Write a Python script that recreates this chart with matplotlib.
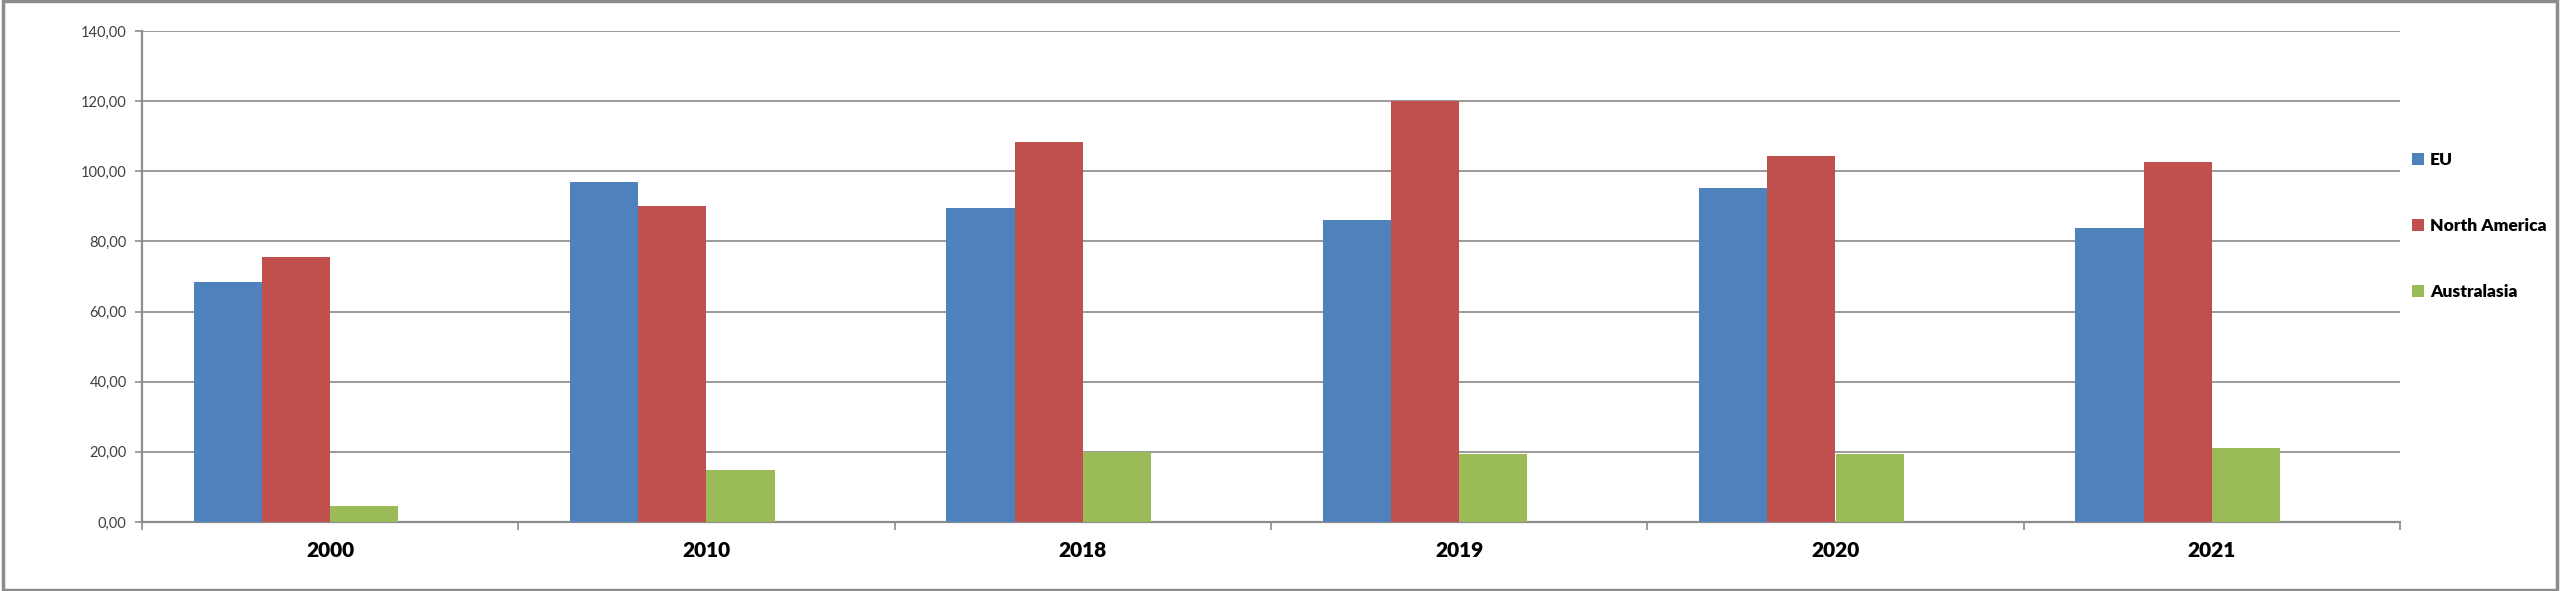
import numpy as np
import matplotlib
matplotlib.use("Agg")
import matplotlib.pyplot as plt
from matplotlib.patches import Rectangle
from matplotlib.ticker import FuncFormatter, FixedLocator

plt.rcParams['font.family'] = ['Lato', 'DejaVu Sans']

years = ["2000", "2010", "2018", "2019", "2020", "2021"]
eu = [68.5, 97.0, 89.4, 86.1, 95.2, 83.7]
north_america = [75.5, 90.0, 108.4, 119.9, 104.5, 102.6]
australasia = [4.5, 14.9, 20.0, 19.3, 19.3, 21.2]

series_names = ["EU", "North America", "Australasia"]
colors = ["#4F81BD", "#C0504D", "#9BBB59"]

fig = plt.figure(figsize=(25.6, 5.91), dpi=100)
ax = fig.add_axes([142 / 2560, 1 - 522 / 591, (2400 - 142) / 2560, (522 - 31) / 591])

x = np.arange(len(years))
w = 0.1815
# Excel leaves room for a 4th (empty) series, so bars sit left of centre
offsets = [-1.5 * w, -0.5 * w, 0.5 * w]
for vals, name, col, off in zip([eu, north_america, australasia], series_names, colors, offsets):
    ax.bar(x + off, vals, width=w, color=col, label=name, zorder=3, linewidth=0)

ax.set_xlim(-0.5, len(years) - 0.5)
ax.set_ylim(0, 140)
ax.set_yticks(np.arange(0, 141, 20))
ax.yaxis.set_major_formatter(FuncFormatter(lambda v, p: f"{v:.2f}".replace(".", ",")))
ax.grid(axis="y", color="#9a9a9a", linewidth=1.4, zorder=0)

ax.set_xticks(x)
ax.set_xticklabels(years, fontsize=15, fontweight="heavy", color="black")
ax.xaxis.set_minor_locator(FixedLocator(np.arange(-0.5, len(years), 1.0)))
ax.tick_params(axis="x", which="major", length=0, pad=14)
ax.tick_params(axis="x", which="minor", length=6, width=1.2, color="#8c8c8c")
ax.tick_params(axis="y", length=5, width=1.2, color="#8c8c8c", labelsize=10.5,
               labelcolor="#404040", pad=6)

for s in ["top", "right"]:
    ax.spines[s].set_visible(False)
for s in ["left", "bottom"]:
    ax.spines[s].set_color("#8c8c8c")
    ax.spines[s].set_linewidth(1.6)

leg = fig.legend(loc="center left", bbox_to_anchor=(2412 / 2560, 1 - 226 / 591),
                 frameon=False, fontsize=12.5, handlelength=0.7, handleheight=0.7,
                 handletextpad=0.35, labelspacing=2.9, borderpad=0, borderaxespad=0)
for t in leg.get_texts():
    t.set_fontweight("heavy")

# chart area border
fig.patches.append(Rectangle((0.001, 0.002), 0.998, 0.996, transform=fig.transFigure,
                             fill=False, edgecolor="#8c8c8c", linewidth=2.5))

fig.savefig("out.png", dpi=100, facecolor="white")
